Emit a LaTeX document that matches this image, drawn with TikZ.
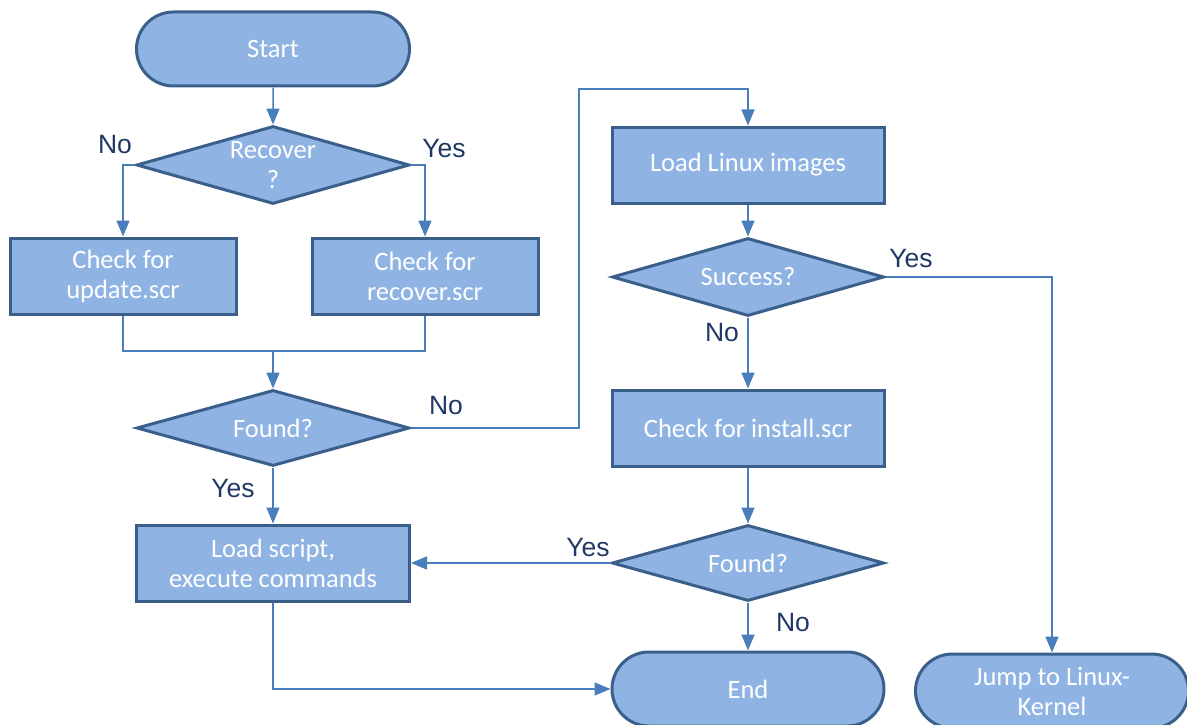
\documentclass[tikz,border=0pt]{standalone}
\usepackage{fontspec}
\setmainfont{Carlito}
\newfontfamily\labelfont{Liberation Sans}
\usetikzlibrary{shapes.geometric,shapes.misc,arrows.meta}
\definecolor{boxfill}{HTML}{8FB4E3}
\definecolor{boxline}{HTML}{3A5F8B}
\definecolor{conline}{HTML}{4A7EBB}
\definecolor{labtext}{HTML}{1F3864}
\begin{document}
\begin{tikzpicture}[x=1pt, y=-1pt,
		every node/.style={font=\fontsize{26.5}{30}\selectfont},
		proc/.style={draw=boxline, line width=3pt, fill=boxfill, text=white, align=center, minimum width=273pt, minimum height=76pt, inner sep=0pt},
		decision/.style={diamond, draw=boxline, line width=3pt, fill=boxfill, text=white, align=center, minimum width=273pt, minimum height=78pt, aspect=3.4, inner sep=0pt},
		terminal/.style={rounded rectangle, draw=boxline, line width=3pt, fill=boxfill, text=white, align=center, minimum width=273pt, minimum height=74pt, inner sep=0pt},
		conn/.style={draw=conline, line width=1.5pt},
		arr/.style={conn, -{Triangle[length=16pt, width=13pt]}},
		answer/.style={text=labtext, font=\labelfont\fontsize{26.5}{30}\selectfont}]
	\useasboundingbox (0,0) rectangle (1187,725);
	\clip (0,0) rectangle (1187,725);
	% left column
	\node[terminal] (start)at(273, 49) {Start};
	\node[decision] (recover)at(273, 165) {Recover\\?};
	\node[proc, minimum width=226pt] (update)at(123, 276) {Check for\\update.scr};
	\node[proc, minimum width=226pt] (recscr)at(425, 276) {Check for\\recover.scr};
	\node[decision, minimum height=76pt] (found)at(273, 428) {Found?};
	\node[proc] (loadscr)at(273, 563) {Load script,\\execute commands};
	% right column
	\node[proc, minimum width=272pt] (loadlin)at(748, 165) {Load Linux images};
	\node[decision, minimum width=272pt] (success)at(748, 277) {Success?};
	\node[proc, minimum width=272pt] (install)at(748, 428) {Check for install.scr};
	\node[decision, minimum width=272pt, minimum height=76pt] (found2)at(748, 563) {Found?};
	\node[terminal, minimum width=272pt] (end)at(748, 689) {End};
	\node[terminal] (jump)at(1052, 691) {Jump to Linux-\\Kernel};
	% bends
	\coordinate (merge)at(273, 351);
	\coordinate (up)at(579, 89);
	% connectors
	\draw[arr] (start) -- (recover);
	\draw[arr] (recover.west) -| (update.north);
	\draw[arr] (recover.east) -| (recscr.north);
	\draw[conn] (update.south) |- (merge);
	\draw[conn] (recscr.south) |- (merge);
	\draw[arr] (merge) -- (found.north);
	\draw[arr] (found.east) -| (up) -| (loadlin.north);
	\draw[arr] (found) -- (loadscr);
	\draw[arr] (loadlin) -- (success);
	\draw[arr] (success.east) -| (jump.north);
	\draw[arr] (success) -- (install);
	\draw[arr] (install) -- (found2);
	\draw[arr] (found2.west) -- (loadscr.east);
	\draw[arr] (found2) -- (end);
	\draw[arr] (loadscr.south) |- (end.west);
	% answers
	\node[answer] (recno)at(115, 145) {No};
	\node[answer] (recyes)at(444, 149) {Yes};
	\node[answer] (fndno)at(446, 406) {No};
	\node[answer] (fndyes)at(233, 489) {Yes};
	\node[answer] (sucyes)at(911, 259) {Yes};
	\node[answer] (sucno)at(722, 333) {No};
	\node[answer] (fnd2yes)at(588, 548) {Yes};
	\node[answer] (fnd2no)at(793, 623) {No};
\end{tikzpicture}
\end{document}
